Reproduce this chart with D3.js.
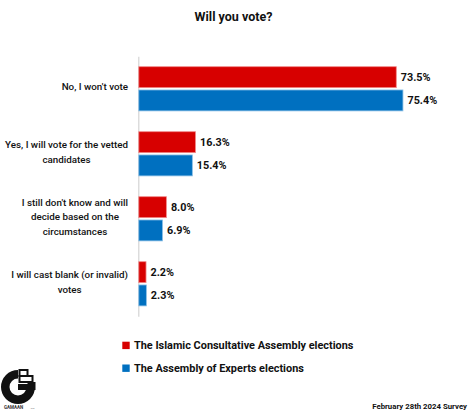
<!DOCTYPE html>
<html>
<head>
<meta charset="utf-8">
<script src="https://cdn.jsdelivr.net/npm/d3@7"></script>
<style>
  html, body { margin: 0; padding: 0; background: #fff; }
  svg { display: block; font-family: Roboto, "Noto Sans", sans-serif; }
</style>
</head>
<body>
<svg id="chart" width="475" height="411"></svg>
<script>
const categories = [
  ["No, I won't vote"],
  ["Yes, I will vote for the vetted", "candidates"],
  ["I still don't know and will", "decide based on the", "circumstances"],
  ["I will cast blank (or invalid)", "votes"]
];
const categoryKeys = ["no", "yes", "undecided", "blank"];
const seriesNames = ["The Islamic Consultative Assembly elections", "The Assembly of Experts elections"];
const seriesColors = ["#d70000", "#0070c0"];
const seriesStrokes = ["#f08a8a", "#8cc0e6"];
const consultativeValues = [73.5, 16.3, 8.0, 2.2];
const expertsValues = [75.4, 15.4, 6.9, 2.3];
const valueLabels = [["73.5%", "16.3%", "8.0%", "2.2%"], ["75.4%", "15.4%", "6.9%", "2.3%"]];
const seriesValues = [consultativeValues, expertsValues];

const svg = d3.select("#chart");

// Title
svg.append("text").attr("x", 233.5).attr("y", 21).attr("text-anchor", "middle")
  .attr("font-size", 12.5).attr("font-weight", 700).attr("fill", "#111").text("Will you vote?");

const x = d3.scaleLinear().domain([0, 100]).range([138.3, 138.3 + 351]);
const y = d3.scaleBand().domain(categoryKeys).range([56.3, 316.3]).paddingInner(0.32).paddingOuter(0.16);
const ySub = d3.scaleBand().domain([0, 1]).range([0, y.bandwidth()]).paddingInner(0.1);

// axis line
const axis = svg.append("g").attr("transform", `translate(${x(0)},0)`)
  .call(d3.axisLeft(y).tickSize(0).tickFormat(""));
axis.select(".domain").attr("stroke", "#d4d4d4").attr("stroke-width", 1.2);

// bars
seriesValues.forEach((vals, si) => {
  const g = svg.append("g");
  g.selectAll("rect").data(vals).join("rect")
    .attr("x", x(0) + 0.5)
    .attr("y", (d, i) => y(categoryKeys[i]) + ySub(si))
    .attr("width", d => x(d) - x(0) - 0.5)
    .attr("height", ySub.bandwidth())
    .attr("fill", seriesColors[si])
    .attr("stroke", seriesStrokes[si])
    .attr("stroke-width", 0.8);
  g.selectAll("text").data(vals).join("text")
    .attr("x", d => x(d) + 4.5)
    .attr("y", (d, i) => y(categoryKeys[i]) + ySub(si) + ySub.bandwidth() / 2)
    .attr("dy", "0.36em")
    .attr("font-size", 10.8).attr("font-weight", 700).attr("fill", "#111")
    .text((d, i) => valueLabels[si][i]);
});

// category labels
const lineH = 14.4;
categories.forEach((lines, i) => {
  const cy = y(categoryKeys[i]) + y.bandwidth() / 2 - 1.8;
  const t = svg.append("text").attr("font-size", 9.8).attr("font-weight", 500).attr("fill", "#111")
    .attr("text-anchor", "middle");
  const spans = lines.map((l, k) => t.append("tspan").text(l)
    .attr("y", cy + (k - (lines.length - 1) / 2) * lineH).attr("dy", "0.35em"));
  const maxW = d3.max(spans, s => s.node().getComputedTextLength());
  spans.forEach(s => s.attr("x", 128 - maxW / 2));
});

// legend
seriesNames.forEach((name, i) => {
  const ly = 345 + i * 22.8;
  svg.append("rect").attr("x", 122.3).attr("y", ly - 3.3).attr("width", 7.4).attr("height", 7.4)
    .attr("fill", seriesColors[i]);
  svg.append("text").attr("x", 134).attr("y", ly).attr("dy", "0.35em")
    .attr("font-size", 10.9).attr("font-weight", 700).attr("fill", "#111").text(name);
});

// footer
svg.append("text").attr("x", 467).attr("y", 406.7).attr("dy", "0.35em").attr("text-anchor", "end")
  .attr("font-size", 7.8).attr("font-weight", 700).attr("fill", "#111").text("February 28th 2024 Survey");

// logo
const logo = svg.append("g").attr("transform", "translate(18,387)");
logo.append("path").attr("d", d3.arc()({innerRadius: 8.5, outerRadius: 17, startAngle: Math.PI / 2, endAngle: 2 * Math.PI}))
  .attr("fill", "#111");
logo.append("rect").attr("x", 0).attr("y", -3).attr("width", 17.5).attr("height", 6).attr("fill", "#111");
logo.append("rect").attr("x", 1.5).attr("y", -17).attr("width", 8).attr("height", 6).attr("fill", "none").attr("stroke", "#111").attr("stroke-width", 2);
logo.append("rect").attr("x", 1.5).attr("y", -11).attr("width", 13).attr("height", 6).attr("fill", "none").attr("stroke", "#111").attr("stroke-width", 2);
logo.append("rect").attr("x", 9.5).attr("y", -5).attr("width", 8).attr("height", 2).attr("fill", "#111");
svg.append("text").attr("x", 4).attr("y", 409).attr("font-size", 4.5).attr("font-weight", 700).attr("fill", "#333").text("GAMAAN");
svg.append("text").attr("x", 30).attr("y", 409).attr("font-size", 2.5).attr("fill", "#777").text(".org");
</script>
</body>
</html>
